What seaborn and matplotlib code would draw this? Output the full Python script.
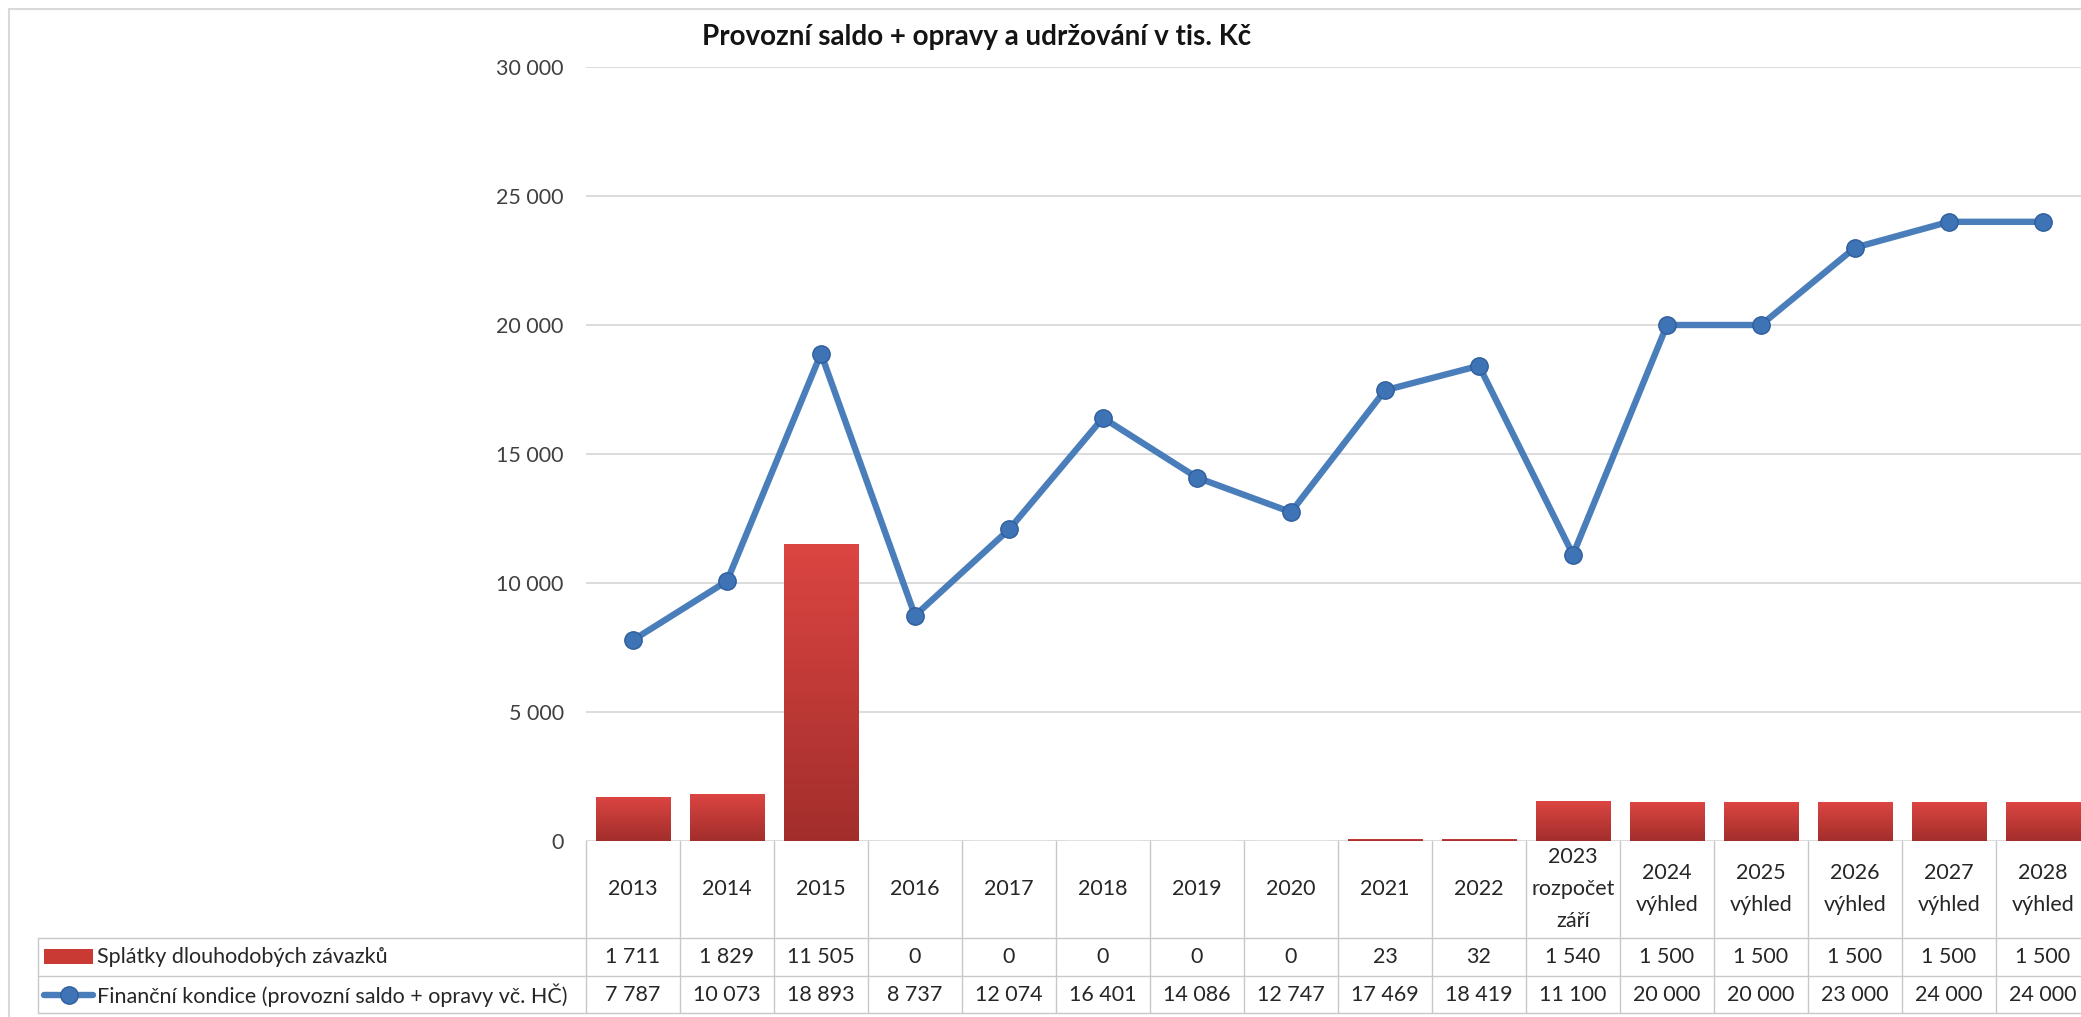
import numpy as np
import matplotlib
matplotlib.use("Agg")
import matplotlib.pyplot as plt
import matplotlib.transforms as mtransforms
from matplotlib.colors import LinearSegmentedColormap
from matplotlib.lines import Line2D
from matplotlib.patches import Rectangle
import seaborn as sns

# --- data ---
years = ["2013", "2014", "2015", "2016", "2017", "2018", "2019", "2020",
         "2021", "2022", "2023\nrozpočet\nzáří", "2024\nvýhled", "2025\nvýhled",
         "2026\nvýhled", "2027\nvýhled", "2028\nvýhled"]
splatky = [1711, 1829, 11505, 0, 0, 0, 0, 0, 23, 32, 1540, 1500, 1500, 1500, 1500, 1500]
kondice = [7787, 10073, 18893, 8737, 12074, 16401, 14086, 12747, 17469, 18419,
           11100, 20000, 20000, 23000, 24000, 24000]
series_names = ["Splátky dlouhodobých závazků",
                "Finanční kondice (provozní saldo + opravy vč. HČ)"]
title = "Provozní saldo + opravy a udržování v tis. Kč"
y_ticks = [0, 5000, 10000, 15000, 20000, 25000, 30000]

W, H = 2081, 1017
RED = "#C8382F"
BLUE = "#4A7EBB"
GRID = "#D9D9D9"
TXT = "#262626"
FS = 15.5


def fx(px):
    return px / W


def fy(px):
    return 1 - px / H


def fmt(v):
    return f"{v:,}".replace(",", " ")


sns.set_style("white")
plt.rcParams["font.family"] = ["Lato", "DejaVu Sans"]

fig = plt.figure(figsize=(W / 100, H / 100), dpi=100)
# plot area (Excel style, runs a bit past the right edge like the reference)
ax = fig.add_axes([fx(586), fy(841), fx(2090) - fx(586), (841 - 67) / H])

idx = np.arange(len(years))
sns.barplot(x=idx, y=splatky, ax=ax, color=RED, width=0.79, saturation=1, zorder=2)

# vertical gradient on bars
cmap = LinearSegmentedColormap.from_list("bar", ["#A22E2B", "#DC4542"])
grad = np.linspace(0, 1, 256).reshape(-1, 1)
for p in list(ax.patches):
    h = p.get_height()
    if h <= 0:
        continue
    x0, y0, w = p.get_x(), p.get_y(), p.get_width()
    h = max(h, 80)
    p.set_height(h)
    im = ax.imshow(grad, extent=[x0, x0 + w, y0, y0 + h], origin="lower",
                   aspect="auto", cmap=cmap, zorder=2)
    im.set_clip_path(p)
    p.set_facecolor("none")
    p.set_edgecolor("none")

sns.lineplot(x=idx, y=kondice, ax=ax, color=BLUE, linewidth=4.6, marker="o",
             markersize=12.5, markerfacecolor="#3E73B6", markeredgecolor="#2F5E9C",
             markeredgewidth=1, zorder=3)

ax.set_xlim(-0.5, len(years) - 0.5)
ax.set_ylim(0, 30000)
ax.set_yticks(y_ticks)
ax.set_yticklabels([fmt(v) for v in y_ticks])
ax.yaxis.grid(True, color=GRID, linewidth=1.3)
ax.set_axisbelow(True)
ax.tick_params(axis="y", length=0, pad=16, labelsize=FS, labelcolor="#404040")
ax.tick_params(axis="x", length=0, labelbottom=False)
ax.set_xlabel("")
ax.set_ylabel("")
for s in ax.spines.values():
    s.set_visible(False)

# --- data table below the plot ---
blend = mtransforms.blended_transform_factory(ax.transData, fig.transFigure)
LINE = "#C8C8C8"
for i in range(len(years) + 1):
    fig.add_artist(Line2D([i - 0.5, i - 0.5], [fy(841), fy(1013)], transform=blend,
                          color=LINE, linewidth=1))
for ypx in (938, 976, 1013):
    fig.add_artist(Line2D([fx(38), 1.0], [fy(ypx), fy(ypx)], transform=fig.transFigure,
                          color=LINE, linewidth=1))
fig.add_artist(Line2D([fx(38), fx(38)], [fy(938), fy(1013)], transform=fig.transFigure,
                      color=LINE, linewidth=1))

for i, lab in enumerate(years):
    ax.text(i, fy(889), lab, transform=blend, ha="center", va="center",
            fontsize=FS, color=TXT, linespacing=1.75, clip_on=False)
    ax.text(i, fy(957), fmt(splatky[i]), transform=blend, ha="center", va="center",
            fontsize=FS, color=TXT, clip_on=False)
    ax.text(i, fy(995), fmt(kondice[i]), transform=blend, ha="center", va="center",
            fontsize=FS, color=TXT, clip_on=False)

# legend keys inside the table
fig.add_artist(Rectangle((fx(44), fy(964)), fx(93) - fx(44), (964 - 949) / H,
                         transform=fig.transFigure, facecolor="#C93A35", edgecolor="none"))
fig.add_artist(Line2D([fx(44), fx(68.5), fx(93)], [fy(995)] * 3, transform=fig.transFigure,
                      color=BLUE, linewidth=4.6, marker="o", markevery=[1], markersize=12.5,
                      markerfacecolor="#3E73B6", markeredgecolor="#2F5E9C"))
fig.text(fx(97), fy(957), series_names[0], ha="left", va="center", fontsize=FS, color=TXT)
fig.text(fx(97), fy(995), series_names[1], ha="left", va="center", fontsize=FS, color=TXT)

# chart title and outer frame
fig.text(fx(977), fy(37), title, ha="center", va="center", fontsize=20,
         fontweight="bold", color="#141414")
fig.add_artist(Rectangle((fx(9), -0.05), 1.1, fy(9) + 0.05, transform=fig.transFigure,
                         fill=False, edgecolor=GRID, linewidth=1.5))

fig.savefig("out.png", dpi=100)
